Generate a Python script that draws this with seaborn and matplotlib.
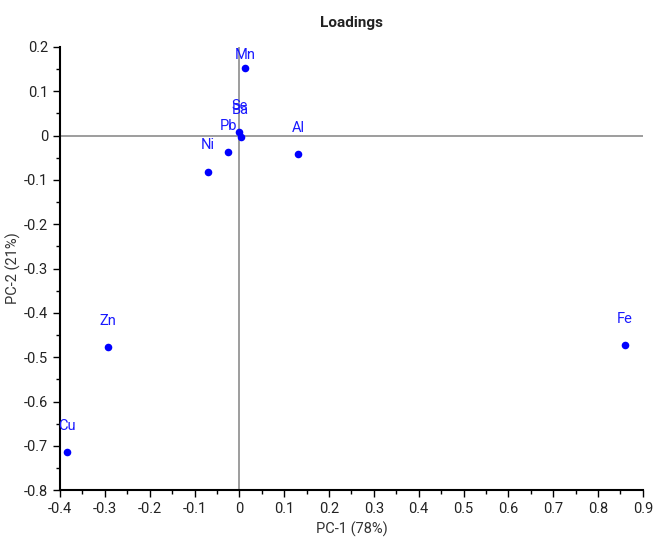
import matplotlib
matplotlib.use("Agg")
import matplotlib.pyplot as plt
import seaborn as sns
import pandas as pd
from matplotlib.ticker import MultipleLocator, FuncFormatter

elements = ["Mn", "Se", "Ba", "Pb", "Ni", "Al", "Zn", "Cu", "Fe"]
pc1 = [0.012, 0.000, 0.003, -0.025, -0.070, 0.131, -0.293, -0.384, 0.860]
pc2 = [0.153, 0.008, -0.003, -0.037, -0.082, -0.042, -0.477, -0.714, -0.473]

df = pd.DataFrame({"element": elements, "pc1": pc1, "pc2": pc2})

sns.set_style("white")
plt.rcParams["font.family"] = ["Liberation Sans Narrow", "Roboto", "DejaVu Sans"]

fig = plt.figure(figsize=(6.6, 5.52), dpi=100)
ax = fig.add_axes([0.091, 0.112, 0.883, 0.803])

ax.axhline(0, color="#8c8c8c", lw=1.2, zorder=1)
ax.axvline(0, color="#8c8c8c", lw=1.2, zorder=1)

sns.scatterplot(data=df, x="pc1", y="pc2", color="#0000ff", s=30, edgecolor="#0000ff",
                linewidth=0, ax=ax, zorder=3)

for _, r in df.iterrows():
    dy = 4 if r["element"] == "Mn" else 14
    ax.annotate(r["element"], (r["pc1"], r["pc2"]), xytext=(0, dy), textcoords="offset points",
                ha="center", va="bottom", color="#1a1aff", fontsize=10.5)

ax.set_xlim(-0.4, 0.9)
ax.set_ylim(-0.8, 0.2)
ax.xaxis.set_major_locator(MultipleLocator(0.1))
ax.xaxis.set_minor_locator(MultipleLocator(0.05))
ax.yaxis.set_major_locator(MultipleLocator(0.1))
ax.yaxis.set_minor_locator(MultipleLocator(0.05))

def fmt(v, _):
    v = round(v, 2)
    if abs(v) < 1e-9:
        return "0"
    return f"{v:g}"

ax.xaxis.set_major_formatter(FuncFormatter(fmt))
ax.yaxis.set_major_formatter(FuncFormatter(fmt))

for s in ["top", "right"]:
    ax.spines[s].set_visible(False)
for s in ["left", "bottom"]:
    ax.spines[s].set_color("black")
    ax.spines[s].set_linewidth(1.5)

ax.tick_params(axis="both", which="major", direction="out", length=5, width=1, color="black",
               labelsize=10.5, labelcolor="#222222", bottom=True, left=True)
ax.tick_params(axis="both", which="minor", direction="out", length=3, width=1, color="black",
               bottom=True, left=True)

ax.set_xlabel("PC-1 (78%)", fontsize=10.5, color="#333333", labelpad=4)
ax.set_ylabel("PC-2 (21%)", fontsize=10.5, color="#333333", labelpad=2)
ax.set_title("Loadings", fontsize=11, color="#222222", pad=14, fontweight="bold")

fig.savefig("out.png", dpi=100)
